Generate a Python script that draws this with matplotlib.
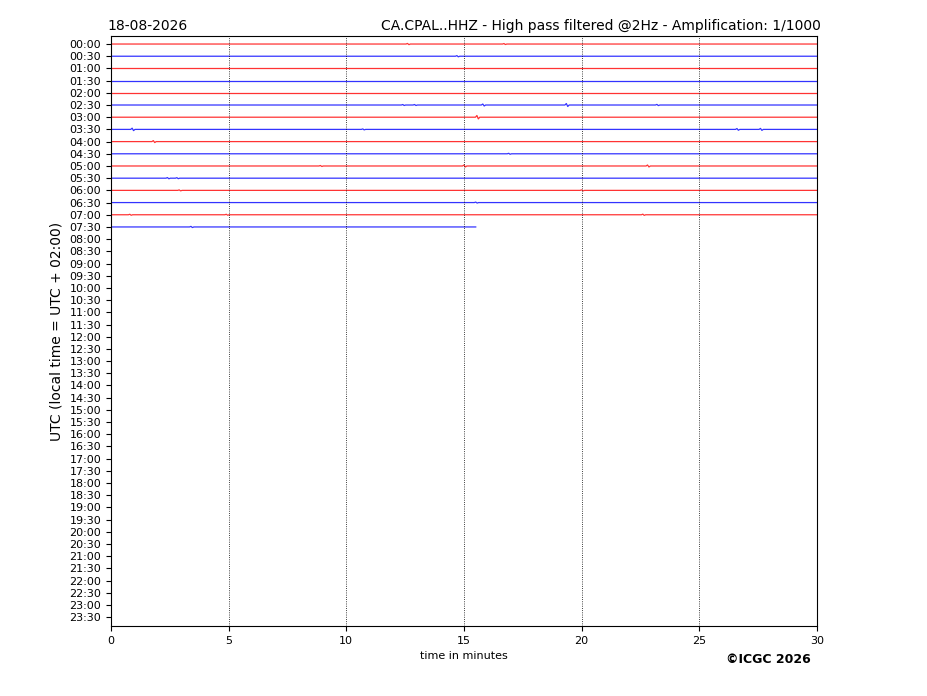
import matplotlib
matplotlib.use("Agg")
import matplotlib.pyplot as plt
import numpy as np

# labels for every half hour of the day
hour_labels = ["%02d:%02d" % (h, m) for h in range(24) for m in (0, 30)]

# traces recorded so far (row index in hour_labels) and where each one stops (minutes)
trace_rows = list(range(16))
trace_end = [30] * 15 + [15.5]

# visible spikes: row, minute, amplitude (in row units)
spike_row = [0, 0, 1, 5, 5, 5, 5, 5, 6, 7, 7, 7, 7, 8, 9, 10, 10, 10, 11, 11, 12, 12, 13, 14, 14, 14, 15]
spike_min = [12.6, 16.7, 14.7, 12.4, 12.9, 15.8, 19.35, 23.2, 15.55, 0.9, 10.7, 26.6, 27.6,
             1.8, 16.9, 8.9, 15.0, 22.8, 2.4, 2.8, 2.9, 20.0, 15.5, 0.8, 4.9, 22.6, 3.4]
spike_amp = [0.05, 0.04, 0.05, 0.04, 0.04, 0.08, 0.12, 0.05, 0.14, 0.1, 0.04, 0.07, 0.08,
             0.08, 0.04, 0.04, 0.08, 0.08, 0.05, 0.04, 0.04, 0.04, 0.04, 0.04, 0.04, 0.05, 0.05]

fig = plt.figure(figsize=(9.27, 6.96), dpi=100)
ax = fig.add_axes([0.1197, 0.1006, 0.7616, 0.8477])

for row, end in zip(trace_rows, trace_end):
    color = "red" if row % 2 == 0 else "blue"
    xs = [0.0]
    ys = [0.0]
    hits = sorted((m, a) for r, m, a in zip(spike_row, spike_min, spike_amp) if r == row and m < end)
    for m, a in hits:
        xs += [m - 0.06, m, m + 0.06, m + 0.12]
        ys += [0.0, a, -a, 0.0]
    xs.append(end)
    ys.append(0.0)
    ax.plot(xs, row - np.array(ys), color=color, lw=0.9, alpha=0.8)

for x in range(5, 30, 5):
    ax.axvline(x, color="black", ls=":", lw=0.6)

ax.set_xlim(0, 30)
ax.set_ylim(47.72, -0.66)
ax.set_yticks(range(len(hour_labels)))
ax.set_yticklabels(hour_labels)
ax.set_xticks(range(0, 31, 5))
ax.tick_params(labelsize=8)
ax.set_xlabel("time in minutes", fontsize=8)
ax.set_ylabel("UTC (local time = UTC + 02:00)", fontsize=10)
ax.set_title("18-08-2026", loc="left", fontsize=10, x=-0.005, pad=4)
ax.set_title("CA.CPAL..HHZ - High pass filtered @2Hz - Amplification: 1/1000", loc="right",
             fontsize=10, x=1.005, pad=4)
fig.text(0.875, 0.048, "\u00a9ICGC 2026", ha="right", fontsize=9, fontweight="bold")

fig.savefig("out.png", dpi=100)
